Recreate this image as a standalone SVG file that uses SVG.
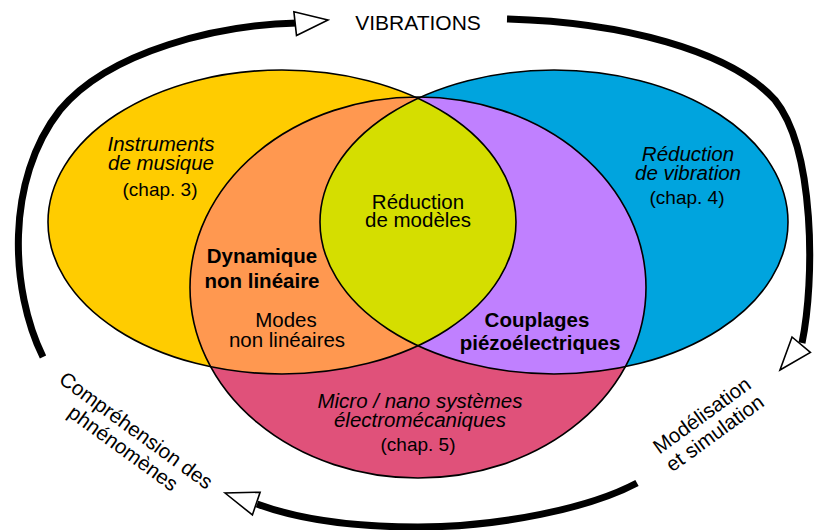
<svg xmlns="http://www.w3.org/2000/svg" xmlns:xlink="http://www.w3.org/1999/xlink" width="817" height="530" viewBox="0 0 817 530">
<style>
text{font-family:"Liberation Sans",Arial,sans-serif;fill:#000;text-anchor:middle}
.m{font-size:20.5px}
.i{font-size:20.5px;font-style:italic}
.b{font-size:20.5px;font-weight:bold}
.c{font-size:19px}
.edge{fill:none;stroke:#000;stroke-width:1.6}
.arc{fill:none;stroke:#000;stroke-width:7}
.ah{fill:#fff;stroke:#000;stroke-width:1.6;stroke-linejoin:miter}
</style>
<defs>
<ellipse id="ey" cx="282" cy="222" rx="234" ry="152"/>
<ellipse id="eb" cx="554" cy="222" rx="234" ry="152"/>
<ellipse id="ep" cx="418" cy="287.5" rx="228" ry="190.5"/>
<clipPath id="cy"><use xlink:href="#ey"/></clipPath>
<clipPath id="cb"><use xlink:href="#eb"/></clipPath>
<clipPath id="cp"><use xlink:href="#ep"/></clipPath>
<path id="ah" class="ah" d="M0,0 L-33,-12 L-33,12 Z"/>
</defs>
<rect width="817" height="530" fill="#fff"/>

<g id="instruments">
<use xlink:href="#ey" fill="#FFCC00"/>
</g>
<g id="reduction-vibration">
<use xlink:href="#eb" fill="#00A4DE"/>
</g>
<g id="mems">
<use xlink:href="#ep" fill="#E0517A"/>
</g>
<g id="dynamique">
<use xlink:href="#ep" fill="#FF9850" clip-path="url(#cy)"/>
</g>
<g id="couplages">
<use xlink:href="#ep" fill="#C080FF" clip-path="url(#cb)"/>
</g>
<g id="reduction-modeles">
<g clip-path="url(#cp)"><use xlink:href="#ey" fill="#D5DE00" clip-path="url(#cb)"/></g>
</g>
<g id="outlines">
<use xlink:href="#ey" class="edge"/>
<use xlink:href="#eb" class="edge"/>
<use xlink:href="#ep" class="edge"/>
</g>

<g id="labels">
<text class="i" x="161" y="151">Instruments</text>
<text class="i" x="161" y="170">de musique</text>
<text class="c" x="160" y="196">(chap. 3)</text>
<text class="i" x="688" y="161">Réduction</text>
<text class="i" x="688" y="180">de vibration</text>
<text class="c" x="687" y="204">(chap. 4)</text>
<text class="m" x="418" y="209">Réduction</text>
<text class="m" x="418" y="227">de modèles</text>
<text class="b" x="262" y="263">Dynamique</text>
<text class="b" x="262" y="288">non linéaire</text>
<text class="m" x="286" y="327">Modes</text>
<text class="m" x="287" y="347">non linéaires</text>
<text class="b" x="537" y="327">Couplages</text>
<text class="b" x="540" y="350">piézoélectriques</text>
<text class="i" x="420" y="408">Micro / nano systèmes</text>
<text class="i" x="420" y="427">électromécaniques</text>
<text class="c" x="418" y="451">(chap. 5)</text>
</g>

<g id="connectors">
<path class="arc" d="M43,357 C10,290 5,180 60,110 C110,50 220,25 297,23"/>
<path class="arc" d="M507,19 C620,22 730,50 775,100 C815,150 815,280 802,343"/>
<path class="arc" d="M637,483 C590,508 500,527 418,527 C350,527 295,518 257,504"/>
<use xlink:href="#ah" transform="translate(328,20) rotate(-6.3)"/>
<use xlink:href="#ah" transform="translate(780,370) rotate(130)"/>
<use xlink:href="#ah" transform="translate(225,493) rotate(198.7)"/>
<text style="font-size:21px" x="418" y="30">VIBRATIONS</text>
<text class="m" transform="translate(132,436) rotate(36)" x="0" y="0">Compréhension des</text>
<text class="m" transform="translate(132,436) rotate(36)" x="0" y="22">phnénomènes</text>
<text class="m" transform="translate(706,421) rotate(-36)" x="0" y="0">Modélisation</text>
<text class="m" transform="translate(706,421) rotate(-36)" x="0" y="22">et simulation</text>
</g>
</svg>
